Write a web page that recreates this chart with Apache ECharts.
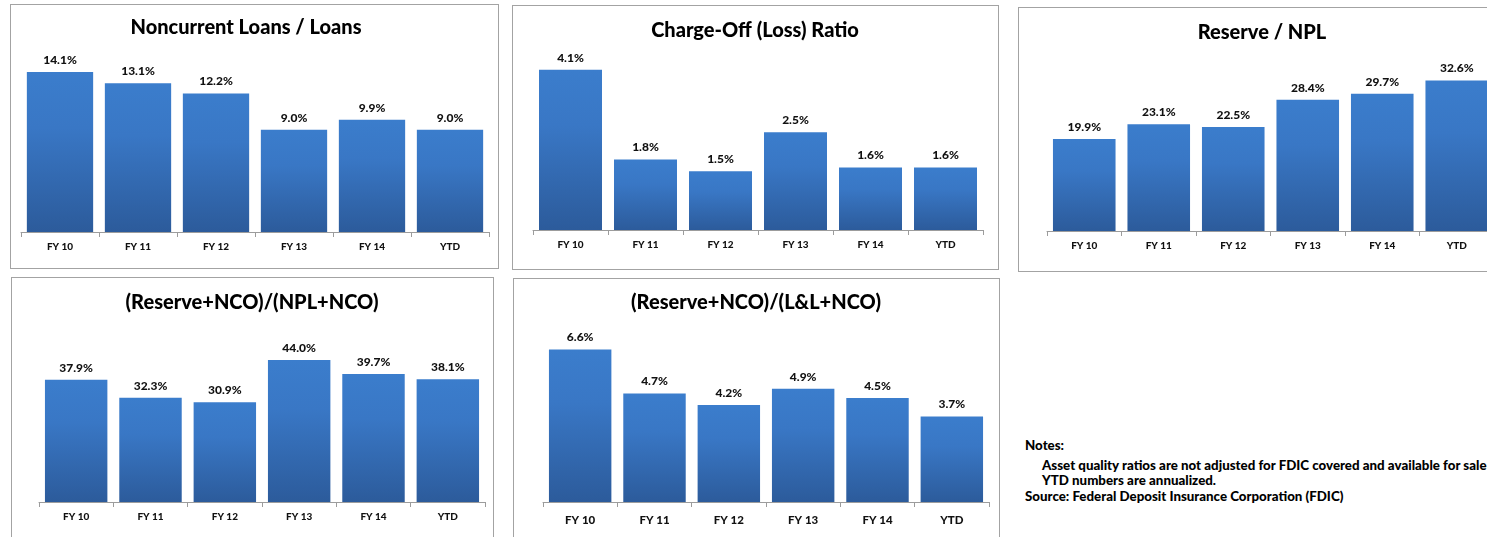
<!DOCTYPE html>
<html>
<head>
<meta charset="utf-8">
<script src="https://cdn.jsdelivr.net/npm/echarts/dist/echarts.min.js"></script>
<style>
  html, body { margin: 0; padding: 0; background: #fff; width: 1487px; height: 537px; overflow: hidden; position: relative; }
  .panel { position: absolute; box-sizing: border-box; border: 1px solid #a3a3a3; background: #fff; }
  .chart { width: 100%; height: 100%; }
  .notes { position: absolute; left: 1025px; top: 438px; font-family: Lato, "Open Sans", sans-serif; font-weight: 900; font-size: 13.3px; line-height: 15.5px; color: #000; white-space: nowrap; }
  .notes .head { margin-bottom: 4px; }
  .notes .ind { padding-left: 17px; }
</style>
</head>
<body>
<div id="p1" class="panel"><div class="chart"></div></div>
<div id="p2" class="panel"><div class="chart"></div></div>
<div id="p3" class="panel"><div class="chart"></div></div>
<div id="p4" class="panel"><div class="chart"></div></div>
<div id="p5" class="panel"><div class="chart"></div></div>
<div class="notes">
  <div class="head">Notes:</div>
  <div class="ind">Asset quality ratios are not adjusted for FDIC covered and available for sale assets.</div>
  <div class="ind">YTD numbers are annualized.</div>
  <div>Source: Federal Deposit Insurance Corporation (FDIC)</div>
</div>
<script>
  // data
  const categories = ['FY 10', 'FY 11', 'FY 12', 'FY 13', 'FY 14', 'YTD'];
  const noncurrentLoans = [14.1, 13.1, 12.2, 9.0, 9.9, 9.0];
  const chargeOffRatio = [4.1, 1.8, 1.5, 2.5, 1.6, 1.6];
  const reserveNpl = [19.9, 23.1, 22.5, 28.4, 29.7, 32.6];
  const reserveNcoNpl = [37.9, 32.3, 30.9, 44.0, 39.7, 38.1];
  const reserveNcoLl = [6.6, 4.7, 4.2, 4.9, 4.5, 3.7];

  const FONT = 'Lato, "Open Sans", sans-serif';

  // box = panel border, axis = x0, x1, baseline y (page px), scale = px per unit
  const panels = [
    { id: 'p1', title: 'Noncurrent Loans / Loans', titleX: 246, titleY: 28, data: noncurrentLoans,
      box: [10, 4, 489, 265], axis: [21, 489, 232], scale: 11.35, max: 16, gap: '15%', catSize: 10 },
    { id: 'p2', title: 'Charge-Off (Loss) Ratio', titleX: 755, titleY: 31, data: chargeOffRatio,
      box: [512, 5, 487, 265], axis: [533, 983, 230], scale: 39.1, max: 4.6, gap: '16%', catSize: 10 },
    { id: 'p3', title: 'Reserve / NPL', titleX: 1262, titleY: 33, data: reserveNpl,
      box: [1018, 7, 488, 265], axis: [1047, 1494, 231], scale: 4.62, max: 36, gap: '16%', catSize: 10 },
    { id: 'p4', title: '(Reserve+NCO)/(NPL+NCO)', titleX: 252, titleY: 303, data: reserveNcoNpl,
      box: [11, 277, 483, 270], axis: [39, 485, 502], scale: 3.225, max: 52, gap: '16%', catSize: 10 },
    { id: 'p5', title: '(Reserve+NCO)/(L&L+NCO)', titleX: 756, titleY: 303, data: reserveNcoLl,
      box: [513, 278, 487, 270], axis: [543, 989, 502], scale: 23.1, max: 7.6, gap: '16%', catSize: 11.5 }
  ];

  panels.forEach(p => {
    const el = document.getElementById(p.id);
    const [bx, by, bw, bh] = p.box;
    el.style.left = bx + 'px';
    el.style.top = by + 'px';
    el.style.width = bw + 'px';
    el.style.height = bh + 'px';

    const chart = echarts.init(el.querySelector('.chart'), null, { renderer: 'canvas' });
    const [x0, x1, ay] = p.axis;
    const innerBottom = ay - by - 1;
    const plotH = p.max * p.scale;

    chart.setOption({
      animation: false,
      textStyle: { fontFamily: FONT },
      graphic: [{
        type: 'text',
        x: p.titleX - bx - 1,
        y: p.titleY - by - 1,
        style: {
          text: p.title,
          fontFamily: FONT,
          fontWeight: 900,
          fontSize: 20,
          fill: '#000',
          textAlign: 'center',
          textVerticalAlign: 'middle'
        }
      }],
      grid: {
        left: x0 - bx - 1,
        width: x1 - x0,
        top: innerBottom - plotH,
        height: plotH
      },
      xAxis: {
        type: 'category',
        data: categories,
        axisLine: { lineStyle: { color: '#9c9c9c', width: 1 } },
        axisTick: { show: true, length: 5, lineStyle: { color: '#9c9c9c' } },
        axisLabel: {
          color: '#111',
          fontWeight: 900,
          fontSize: p.catSize,
          fontFamily: FONT,
          margin: p.catSize > 11 ? 12 : 10
        }
      },
      yAxis: {
        type: 'value',
        min: 0,
        max: p.max,
        show: false
      },
      series: [{
        type: 'bar',
        data: p.data,
        barCategoryGap: p.gap,
        itemStyle: {
          color: {
            type: 'linear', x: 0, y: 0, x2: 0, y2: 1,
            colorStops: [
              { offset: 0, color: '#3b7dcc' },
              { offset: 0.35, color: '#3977c5' },
              { offset: 1, color: '#2c5b9b' }
            ]
          }
        },
        label: {
          show: true,
          position: 'top',
          distance: 6,
          color: '#111',
          fontWeight: 900,
          fontSize: 12,
          fontFamily: FONT,
          formatter: d => d.value.toFixed(1) + '%'
        }
      }]
    });
  });
</script>
</body>
</html>
